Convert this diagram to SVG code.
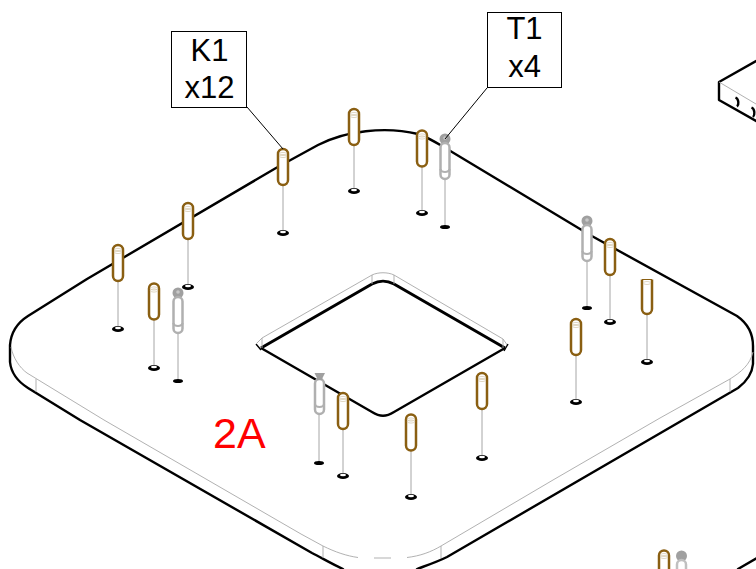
<svg xmlns="http://www.w3.org/2000/svg" xmlns:xlink="http://www.w3.org/1999/xlink" width="756" height="569" viewBox="0 0 756 569">
<style>
.heavy{fill:none;stroke:#000;stroke-width:2.4;stroke-linecap:round;stroke-linejoin:round}
.hole{fill:none;stroke:#000;stroke-width:2.4;stroke-linejoin:round}
.holetop{fill:none;stroke:#000;stroke-width:3;stroke-linejoin:round}
.thin{fill:none;stroke:#a8a8a8;stroke-width:.9}
.stem{stroke:#a6a6a6;stroke-width:1}
.box{fill:#fff;stroke:#000;stroke-width:1}
.leader{stroke:#000;stroke-width:1;fill:none}
.lbl{font-family:"Liberation Sans",Arial,sans-serif;font-size:31px;fill:#000;text-anchor:middle}
</style>
<defs>
<g id="foot"><ellipse cx="0" cy="0" rx="6" ry="3" fill="#000"/><ellipse cx="0" cy="-1" rx="3" ry="1.2" fill="#fff"/></g>
<g id="footg"><ellipse cx="0" cy="0" rx="5" ry="2" fill="#000"/></g>
<g id="brass"><rect x="-5" y="0" width="10" height="36" rx="5" fill="#fff" stroke="#8a5f12" stroke-width="2.5"/><ellipse cx="0" cy="5" rx="3.6" ry="1.6" fill="none" stroke="#d8cdb4" stroke-width=".8"/><ellipse cx="0" cy="7" rx="3.6" ry="1.6" fill="none" stroke="#d8cdb4" stroke-width=".8"/></g>
<g id="steel"><circle cx="0" cy="-4" r="5.500" fill="#a0a0a0"/><circle cx="0" cy="-5" r="1.800" fill="#c8c8c8"/><rect x="-4.500" y="0" width="9" height="36" rx="4.500" fill="#fff" stroke="#b0b0b0" stroke-width="2.500"/><path d="M-4.500 26a4.500 3 0 0 0 9 0" fill="none" stroke="#b0b0b0" stroke-width="2.200"/></g>
</defs>

<g id="plate">
<path class="heavy" d="M343 569C336 566 320 557 312 553L80 420 28 388C17 381 11 372 10 362L10 345C11 332 17 323 28 316L87 279 276 168 318 145C345 131 385 126 418 134 430 138 440 145 452 152L590 235 737 316C747 323 753 334 753 346L753 364C752 375 746 382 738 388L447 557C437 562 425 566 417 569"/>
<path class="thin" d="M11 347C13 358 20 368 27 373L104 420 301 534 323 546C335 552 347 556 358 557.500M374 558H391M407 557.500C420 556 431 552 441 546L553 480 660 418 730 379C741 372 750 365 753 352"/>
<path class="thin" d="M36 379V392M323 546V558M441 546V558M730 379V392"/>
</g>

<g id="opening">
<path class="hole" d="M261 348 372 412C380 417 386 417 394 412L505 348"/>
<path class="holetop" d="M261 348 372 284C380 280 386 280 394 284L505 348"/>
<path class="thin" d="M257 343 262 338 372 275C378 272 388 272 394 275L503 339 508 346M262 338V348M372 275V284M394 275V284M503 339V348"/>
<path d="M256 344 261 350M508 344 504 351" stroke="#000" stroke-width="1.400" fill="none"/>
</g>

<g id="stems">
<path class="stem" d="M118 280V328M154 319V367M188 239V286M283 185V232M354 145V190M422 166V212M610 275V321M647 314V361M576 355V401M343 429V475M411 451V496M482 409V457M178 333V380M445 179V226M587 261V307M319 414V462"/>
</g>

<g id="feet">
<use xlink:href="#foot" href="#foot" x="118" y="329"/>
<use xlink:href="#foot" href="#foot" x="154" y="368"/>
<use xlink:href="#foot" href="#foot" x="188" y="287"/>
<use xlink:href="#foot" href="#foot" x="283" y="233"/>
<use xlink:href="#foot" href="#foot" x="354" y="191"/>
<use xlink:href="#foot" href="#foot" x="422" y="213"/>
<use xlink:href="#foot" href="#foot" x="610" y="322"/>
<use xlink:href="#foot" href="#foot" x="647" y="362"/>
<use xlink:href="#foot" href="#foot" x="576" y="402"/>
<use xlink:href="#foot" href="#foot" x="343" y="476"/>
<use xlink:href="#foot" href="#foot" x="411" y="497"/>
<use xlink:href="#foot" href="#foot" x="482" y="458"/>
<use xlink:href="#footg" href="#footg" x="178" y="381"/>
<use xlink:href="#footg" href="#footg" x="445" y="227"/>
<use xlink:href="#footg" href="#footg" x="587" y="308"/>
<use xlink:href="#footg" href="#footg" x="319" y="463"/>
</g>

<g id="steel-pins">
<use xlink:href="#steel" href="#steel" x="178" y="297"/>
<use xlink:href="#steel" href="#steel" x="445" y="143"/>
<use xlink:href="#steel" href="#steel" x="587" y="225"/>
<g id="steel-flat"><rect x="315" y="379" width="9" height="35" rx="4.500" fill="#fff" stroke="#b0b0b0" stroke-width="2.500"/><path d="M315 404a4.500 3 0 0 0 9 0" fill="none" stroke="#b0b0b0" stroke-width="2.200"/><path d="M314.500 373H325L322.500 378V380H317V378Z" fill="#a0a0a0"/></g>
</g>

<g id="brass-pins">
<use xlink:href="#brass" href="#brass" x="118" y="245"/>
<use xlink:href="#brass" href="#brass" x="154" y="283.500"/>
<use xlink:href="#brass" href="#brass" x="188" y="203"/>
<use xlink:href="#brass" href="#brass" x="283" y="149"/>
<use xlink:href="#brass" href="#brass" x="354" y="109"/>
<use xlink:href="#brass" href="#brass" x="422" y="130.500"/>
<use xlink:href="#brass" href="#brass" x="610" y="239"/>
<use xlink:href="#brass" href="#brass" x="576" y="319"/>
<use xlink:href="#brass" href="#brass" x="343" y="393"/>
<use xlink:href="#brass" href="#brass" x="411" y="414.500"/>
<use xlink:href="#brass" href="#brass" x="482" y="373"/>
<g id="brass-flat"><path d="M642 279.500V309a5 5 0 0 0 10 0V279.500" fill="#fff" stroke="#8a5f12" stroke-width="2.500"/><path d="M642 279.500H652" stroke="#8a5f12" stroke-width="1"/><ellipse cx="647" cy="283" rx="3.600" ry="1.500" fill="none" stroke="#d8cdb4" stroke-width=".8"/></g>
</g>

<g id="corner-parts">
<g id="part-lower-right">
<rect x="659" y="550.500" width="10" height="36" rx="5" fill="#fff" stroke="#8a5f12" stroke-width="2.500"/>
<ellipse cx="664" cy="555" rx="3.600" ry="1.500" fill="none" stroke="#d8cdb4" stroke-width=".8"/>
<ellipse cx="664" cy="557" rx="3.600" ry="1.500" fill="none" stroke="#d8cdb4" stroke-width=".8"/>
<circle cx="681.500" cy="556" r="5.500" fill="#a0a0a0"/>
<rect x="677" y="560" width="9" height="30" rx="4.500" fill="#fff" stroke="#c0c0c0" stroke-width="2.500"/>
<path d="M738 569 756 558.500" class="heavy"/>
</g>
<g id="block">
<path class="heavy" d="M756 61 719 82V100L756 121"/>
<path class="thin" d="M719 82 756 104"/>
<path d="M735.500 97.500C739 99 739 105 737 106.500M751.500 107.500C755 109 755 115 753 117" fill="none" stroke="#000" stroke-width="2.400"/>
</g>
</g>

<g id="connectors">
<path class="leader" d="M247 107 283 149M487 88 445 139"/>
</g>

<g id="callout-K1">
<rect class="box" x="171.500" y="31.500" width="75" height="76"/>
<text class="lbl" x="209.500" y="61">K1</text>
<text class="lbl" x="209.500" y="98">x12</text>
</g>
<g id="callout-T1">
<rect class="box" x="487.500" y="12.500" width="74" height="75"/>
<text class="lbl" x="524.500" y="39">T1</text>
<text class="lbl" x="524.500" y="77">x4</text>
</g>
<g id="label-2A">
<text x="213" y="448" font-family="'Liberation Sans',Arial,sans-serif" font-size="43" fill="#f00">2A</text>
</g>
</svg>
